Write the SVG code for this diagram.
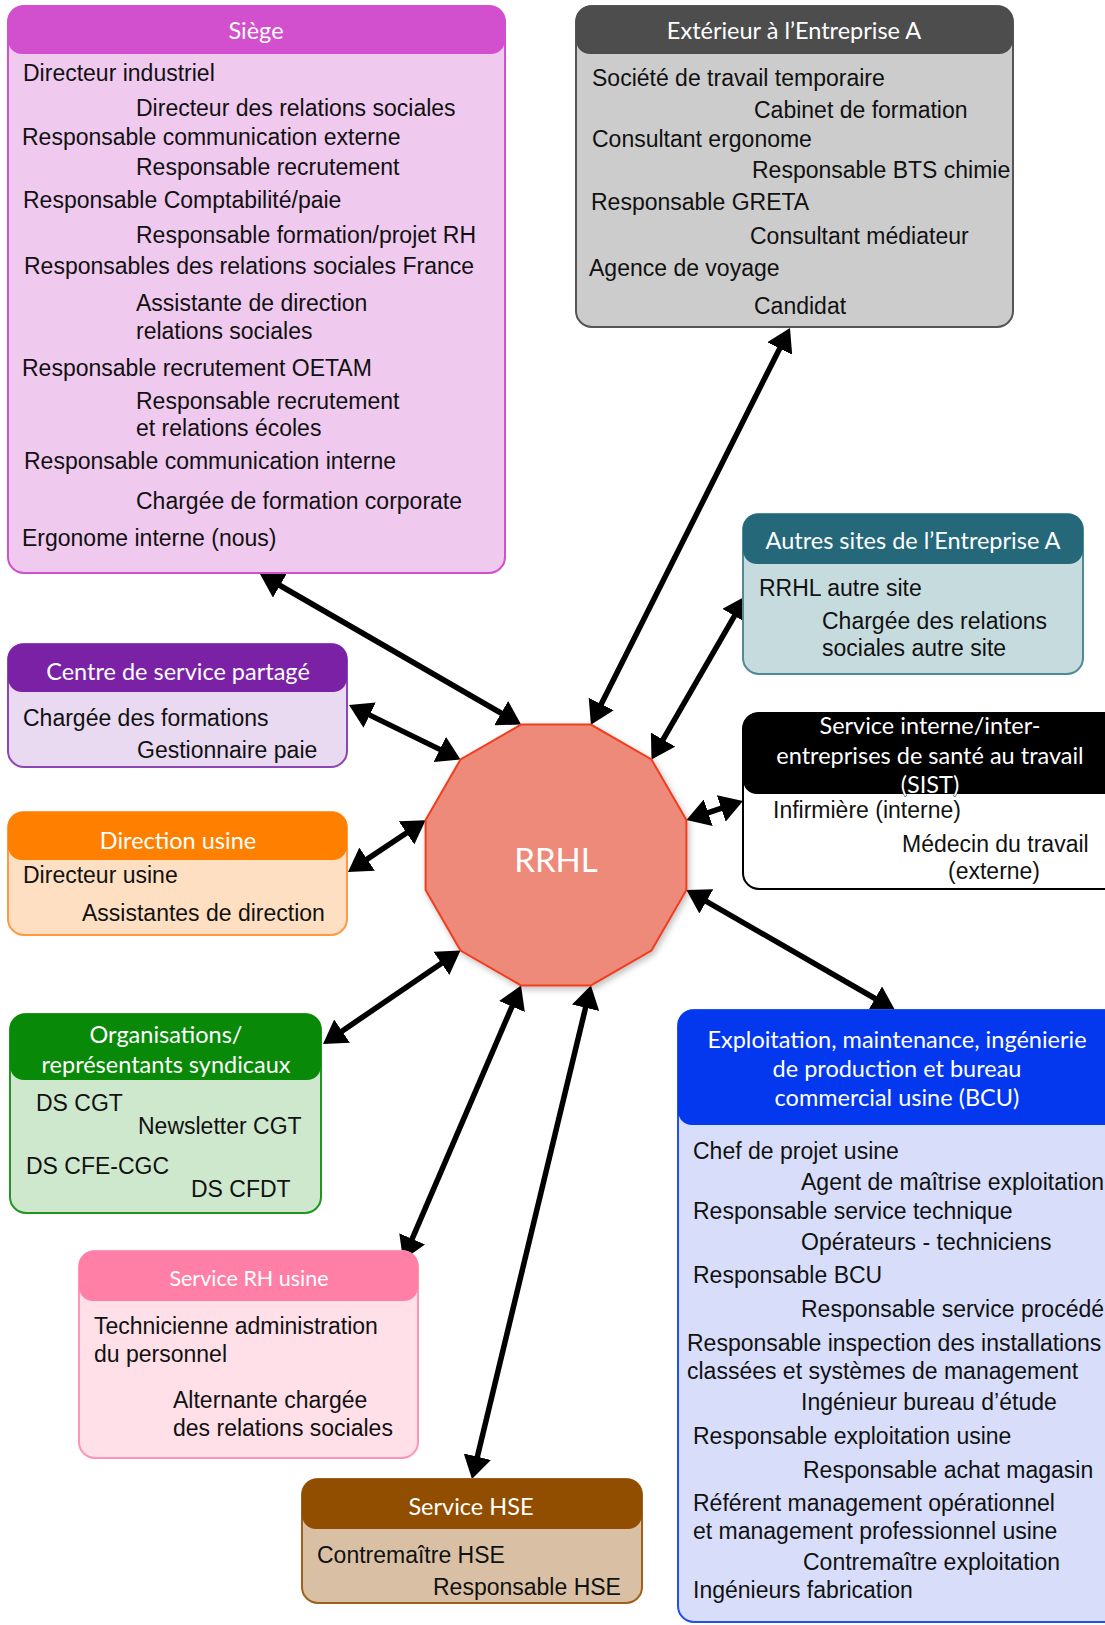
<svg xmlns="http://www.w3.org/2000/svg" width="1105" height="1625" viewBox="0 0 1105 1625">
<defs>
<style>
.t{font-family:"Liberation Sans",Arial,sans-serif;font-size:23px;fill:#111}
.h{font-family:Lato,"Open Sans",sans-serif;font-size:23.5px;fill:#fff;text-anchor:middle}
.c{fill:none;stroke:#000;stroke-width:5.5}
</style>
<marker id="ah" viewBox="0 0 24 28" refX="13" refY="14" markerWidth="24" markerHeight="28" markerUnits="userSpaceOnUse" orient="auto-start-reverse">
<path d="M0,0 L23,14 L0,28 Z" fill="#000"/>
</marker>
<filter id="sh" x="-10%" y="-10%" width="120%" height="120%">
<feDropShadow dx="2" dy="3" stdDeviation="3" flood-opacity="0.25"/>
</filter>
</defs>
<rect width="1105" height="1625" fill="#fff"/>

<g id="connectors">
<line class="c" x1="268.7" y1="579.0" x2="512.4" y2="719.6" marker-start="url(#ah)" marker-end="url(#ah)"/>
<line class="c" x1="785.5" y1="336.9" x2="595.4" y2="715.7" marker-start="url(#ah)" marker-end="url(#ah)"/>
<line class="c" x1="741.0" y1="604.7" x2="656.5" y2="750.8" marker-start="url(#ah)" marker-end="url(#ah)"/>
<line class="c" x1="733.5" y1="804.2" x2="695.9" y2="816.9" marker-start="url(#ah)" marker-end="url(#ah)"/>
<line class="c" x1="886.3" y1="1005.0" x2="695.1" y2="894.9" marker-start="url(#ah)" marker-end="url(#ah)"/>
<line class="c" x1="358.0" y1="709.4" x2="451.5" y2="755.1" marker-start="url(#ah)" marker-end="url(#ah)"/>
<line class="c" x1="356.3" y1="866.4" x2="417.3" y2="825.7" marker-start="url(#ah)" marker-end="url(#ah)"/>
<line class="c" x1="331.3" y1="1038.4" x2="452.2" y2="956.1" marker-start="url(#ah)" marker-end="url(#ah)"/>
<line class="c" x1="407.0" y1="1250.8" x2="517.1" y2="994.6" marker-start="url(#ah)" marker-end="url(#ah)"/>
<line class="c" x1="474.3" y1="1469.3" x2="588.6" y2="995.1" marker-start="url(#ah)" marker-end="url(#ah)"/>
</g>

<g id="rrhl">
<polygon points="686.4,820.1 651.5,759.5 590.9,724.6 521.1,724.6 460.5,759.5 425.6,820.1 425.6,889.9 460.5,950.5 521.1,985.4 590.9,985.4 651.5,950.5 686.4,889.9" fill="#ee8a7a" stroke="#f03c1e" stroke-width="2" filter="url(#sh)"/>
<text class="h" x="556" y="872" style="font-size:33px">RRHL</text>
</g>

<g id="siege">
<rect x="8" y="6" width="497" height="567" rx="16" fill="#f0c9ef" stroke="#d24fcd" stroke-width="2"/>
<rect x="8" y="6" width="497" height="48" rx="14" fill="#d24fcd"/>
<text class="h" x="256" y="39">Siège</text>
<text class="t" x="23" y="81">Directeur industriel</text>
<text class="t" x="136" y="116">Directeur des relations sociales</text>
<text class="t" x="22" y="145">Responsable communication externe</text>
<text class="t" x="136" y="175">Responsable recrutement</text>
<text class="t" x="23" y="208">Responsable Comptabilité/paie</text>
<text class="t" x="136" y="243">Responsable formation/projet RH</text>
<text class="t" x="24" y="274">Responsables des relations sociales France</text>
<text class="t" x="136" y="311">Assistante de direction</text>
<text class="t" x="136" y="339">relations sociales</text>
<text class="t" x="22" y="376">Responsable recrutement OETAM</text>
<text class="t" x="136" y="409">Responsable recrutement</text>
<text class="t" x="136" y="436">et relations écoles</text>
<text class="t" x="24" y="469">Responsable communication interne</text>
<text class="t" x="136" y="509">Chargée de formation corporate</text>
<text class="t" x="22" y="546">Ergonome interne (nous)</text>
</g>

<g id="exterieur">
<rect x="576" y="6" width="437" height="321" rx="16" fill="#cccccc" stroke="#555" stroke-width="2"/>
<rect x="576" y="6" width="437" height="48" rx="14" fill="#4d4d4d"/>
<text class="h" x="794" y="39">Extérieur à l’Entreprise A</text>
<text class="t" x="592" y="86">Société de travail temporaire</text>
<text class="t" x="754" y="118">Cabinet de formation</text>
<text class="t" x="592" y="147">Consultant ergonome</text>
<text class="t" x="752" y="178">Responsable BTS chimie</text>
<text class="t" x="591" y="210">Responsable GRETA</text>
<text class="t" x="750" y="244">Consultant médiateur</text>
<text class="t" x="589" y="276">Agence de voyage</text>
<text class="t" x="754" y="314">Candidat</text>
</g>

<g id="autres-sites">
<rect x="743" y="514" width="340" height="160" rx="16" fill="#c6dbde" stroke="#4f8a96" stroke-width="2"/>
<rect x="743" y="514" width="340" height="50" rx="14" fill="#24687a"/>
<text class="h" x="913" y="549">Autres sites de l’Entreprise A</text>
<text class="t" x="759" y="596">RRHL autre site</text>
<text class="t" x="822" y="629">Chargée des relations</text>
<text class="t" x="822" y="656">sociales autre site</text>
</g>

<g id="sist">
<rect x="743" y="713" width="380" height="176" rx="16" fill="#fff" stroke="#000" stroke-width="2"/>
<rect x="743" y="713" width="380" height="81" rx="14" fill="#000"/>
<text class="h" x="930" y="734">Service interne/inter-</text>
<text class="h" x="930" y="764">entreprises de santé au travail</text>
<text class="h" x="930" y="793" stroke="#000" stroke-width="0.8" paint-order="stroke">(SIST)</text>
<text class="t" x="773" y="818">Infirmière (interne)</text>
<text class="t" x="902" y="852">Médecin du travail</text>
<text class="t" x="948" y="879">(externe)</text>
</g>

<g id="centre-service">
<rect x="8" y="644" width="339" height="123" rx="16" fill="#e9d9f1" stroke="#8d46b6" stroke-width="2"/>
<rect x="8" y="644" width="339" height="48" rx="14" fill="#7b21a5"/>
<text class="h" x="178" y="680">Centre de service partagé</text>
<text class="t" x="23" y="726">Chargée des formations</text>
<text class="t" x="137" y="758">Gestionnaire paie</text>
</g>

<g id="direction-usine">
<rect x="8" y="812" width="339" height="123" rx="16" fill="#ffdfc1" stroke="#ff9a40" stroke-width="2"/>
<rect x="8" y="812" width="339" height="48" rx="14" fill="#ff7f00"/>
<text class="h" x="178" y="849">Direction usine</text>
<text class="t" x="23" y="883">Directeur usine</text>
<text class="t" x="82" y="921">Assistantes de direction</text>
</g>

<g id="organisations">
<rect x="10" y="1014" width="311" height="199" rx="16" fill="#cde8cd" stroke="#1f961f" stroke-width="2"/>
<rect x="10" y="1014" width="311" height="66" rx="14" fill="#088a08"/>
<text class="h" x="166" y="1043">Organisations/</text>
<text class="h" x="166" y="1073">représentants syndicaux</text>
<text class="t" x="36" y="1111">DS CGT</text>
<text class="t" x="138" y="1134">Newsletter CGT</text>
<text class="t" x="26" y="1174">DS CFE-CGC</text>
<text class="t" x="191" y="1197">DS CFDT</text>
</g>

<g id="service-rh">
<rect x="79" y="1251" width="339" height="207" rx="16" fill="#ffdfe8" stroke="#ff95b5" stroke-width="2"/>
<rect x="79" y="1251" width="339" height="50" rx="14" fill="#ff7fa6"/>
<text class="h" x="249" y="1286" style="font-size:21.5px">Service RH usine</text>
<text class="t" x="94" y="1334">Technicienne administration</text>
<text class="t" x="94" y="1362">du personnel</text>
<text class="t" x="173" y="1408">Alternante chargée</text>
<text class="t" x="173" y="1436">des relations sociales</text>
</g>

<g id="service-hse">
<rect x="302" y="1479" width="340" height="124" rx="16" fill="#d9c0a4" stroke="#a0601a" stroke-width="2"/>
<rect x="302" y="1479" width="340" height="50" rx="14" fill="#924e00"/>
<text class="h" x="471" y="1515">Service HSE</text>
<text class="t" x="317" y="1563">Contremaître HSE</text>
<text class="t" x="433" y="1595">Responsable HSE</text>
</g>

<g id="exploitation">
<rect x="678" y="1010" width="445" height="612" rx="16" fill="#d8defa" stroke="#2050f0" stroke-width="2"/>
<rect x="678" y="1010" width="445" height="115" rx="14" fill="#0438ef"/>
<text class="h" x="897" y="1048">Exploitation, maintenance, ingénierie</text>
<text class="h" x="897" y="1077">de production et bureau</text>
<text class="h" x="897" y="1106">commercial usine (BCU)</text>
<text class="t" x="693" y="1159">Chef de projet usine</text>
<text class="t" x="801" y="1190">Agent de maîtrise exploitation</text>
<text class="t" x="693" y="1219">Responsable service technique</text>
<text class="t" x="801" y="1250">Opérateurs - techniciens</text>
<text class="t" x="693" y="1283">Responsable BCU</text>
<text class="t" x="801" y="1317">Responsable service procédé</text>
<text class="t" x="687" y="1351">Responsable inspection des installations</text>
<text class="t" x="687" y="1379">classées et systèmes de management</text>
<text class="t" x="801" y="1410">Ingénieur bureau d’étude</text>
<text class="t" x="693" y="1444">Responsable exploitation usine</text>
<text class="t" x="803" y="1478">Responsable achat magasin</text>
<text class="t" x="693" y="1511">Référent management opérationnel</text>
<text class="t" x="693" y="1539">et management professionnel usine</text>
<text class="t" x="803" y="1570">Contremaître exploitation</text>
<text class="t" x="693" y="1598">Ingénieurs fabrication</text>
</g>
</svg>
